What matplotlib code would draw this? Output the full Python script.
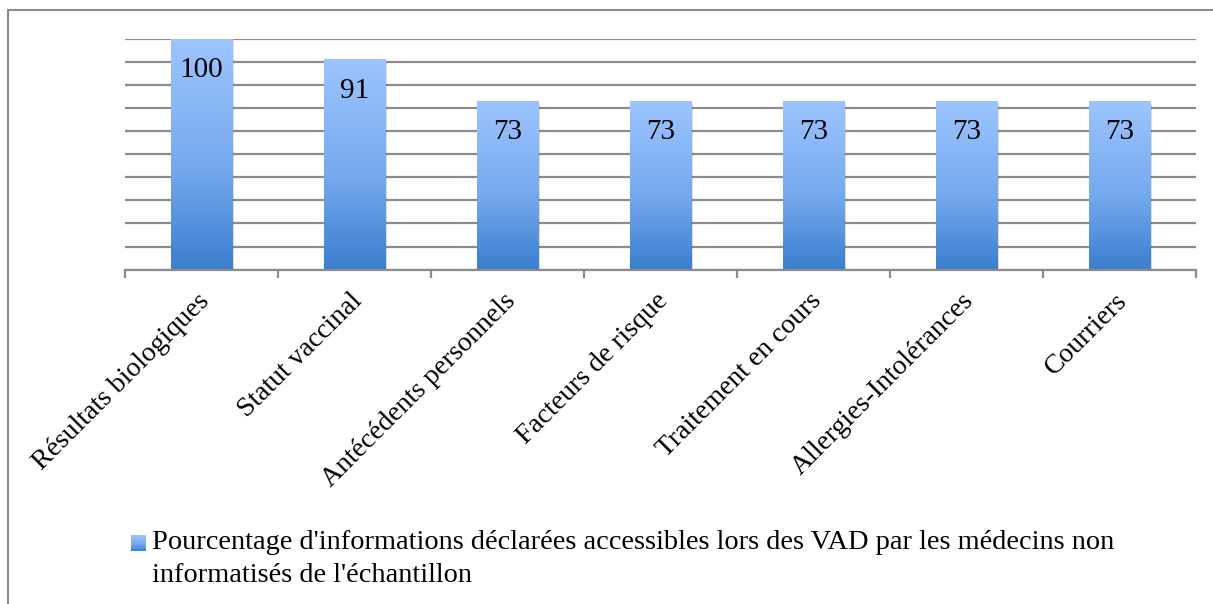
import numpy as np
import matplotlib
matplotlib.use("Agg")
import matplotlib.pyplot as plt
from matplotlib.colors import LinearSegmentedColormap
from matplotlib.patches import Rectangle
from matplotlib.lines import Line2D
from matplotlib.transforms import ScaledTranslation

categories = ["Résultats biologiques", "Statut vaccinal", "Antécédents personnels",
              "Facteurs de risque", "Traitement en cours", "Allergies-Intolérances",
              "Courriers"]
values = [100, 91, 73, 73, 73, 73, 73]
legend_label = ("Pourcentage d'informations déclarées accessibles lors des VAD par les médecins non\n"
                "informatisés de l'échantillon")

plt.rcParams['font.family'] = ['Liberation Serif', 'DejaVu Serif']

W, H = 1213, 604
fig = plt.figure(figsize=(W / 100, H / 100), dpi=100)
ax = fig.add_axes([125 / W, 1 - 269.7 / H, (1196 - 125) / W, (269.7 - 38.7) / H])

grey = "#8c8c8c"
# gradient bars: light at top, darker at bottom
cmap = LinearSegmentedColormap.from_list("bar", [(0, "#3a7ecf"), (0.45, "#76aaee"), (1, "#9dc4fe")])
grad = np.linspace(0, 1, 256).reshape(-1, 1)
bw = 0.405

for i in range(11):
    ax.axhline(i * 10, color=grey, lw=1.6, zorder=1)

for i, v in enumerate(values):
    # soft shadow
    for k, a in [(3, 0.06), (2, 0.08), (1, 0.10)]:
        ax.add_patch(Rectangle((i - bw / 2 + 0.004 * k, -0.4 * k), bw, v, color="black",
                               alpha=a, lw=0, zorder=2))
    bar = Rectangle((i - bw / 2, 0), bw, v, facecolor="none", edgecolor="none", zorder=3)
    ax.add_patch(bar)
    im = ax.imshow(grad, cmap=cmap, origin="lower", aspect="auto",
                   extent=(i - bw / 2, i + bw / 2, 0, v), zorder=3, interpolation="bilinear")
    im.set_clip_path(bar)
    ax.annotate(str(v), (i, v), xytext=(0, -22.5), textcoords="offset points",
                ha="center", va="center", fontsize=21, zorder=4)

ax.set_xlim(-0.5, len(values) - 0.5)
ax.set_ylim(0, 100)
for s in ["top", "right", "left"]:
    ax.spines[s].set_visible(False)
ax.spines["bottom"].set_color(grey)
ax.spines["bottom"].set_linewidth(1.6)
ax.spines["bottom"].set_zorder(5)
ax.set_yticks([])

ax.set_xticks(np.arange(len(categories)))
ax.set_xticks(np.arange(len(categories) + 1) - 0.5, minor=True)
ax.tick_params(axis="x", which="major", length=0, pad=20)
ax.tick_params(axis="x", which="minor", length=6, width=1.6, color=grey, direction="out")
ax.set_xticklabels(categories, rotation=45, ha="right", va="center",
                   rotation_mode="anchor", fontsize=20)
off = ScaledTranslation(4 / 100, 0, fig.dpi_scale_trans)
for lab in ax.get_xticklabels():
    lab.set_transform(lab.get_transform() + off)

# legend drawn by hand so the marker sits on the first line
lax = fig.add_axes([131 / W, 1 - 551 / H, 15 / W, 16 / H])
lax.imshow(grad, cmap=cmap, origin="lower", aspect="auto", extent=(0, 1, 0, 1))
lax.set_axis_off()
fig.text(152 / W, 1 - 530 / H, legend_label, fontsize=20.4, ha="left", va="top",
         linespacing=1.42)

# outer chart frame
fig.add_artist(Line2D([8 / W, 1], [1 - 10 / H, 1 - 10 / H], color=grey, lw=1.5))
fig.add_artist(Line2D([8 / W, 8 / W], [0, 1 - 10 / H], color=grey, lw=1.5))

fig.savefig("out.png", dpi=100)
